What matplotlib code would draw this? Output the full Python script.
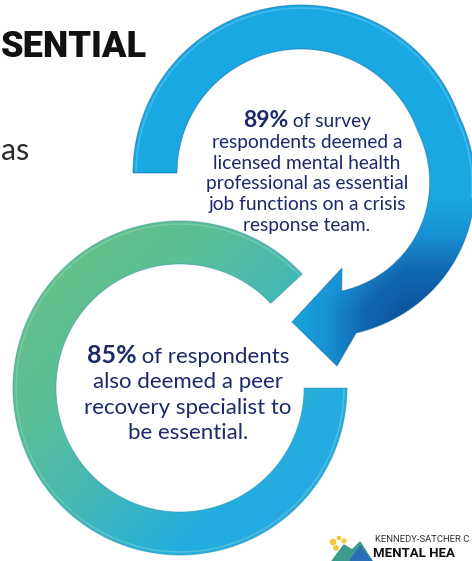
import numpy as np
import matplotlib.pyplot as plt
from matplotlib.colors import LinearSegmentedColormap
from matplotlib.patches import Polygon, Circle

W, H = 472, 561

# text content
stat_values = [89, 85]
top_lines = ["of survey", "respondents deemed a", "licensed mental health",
             "professional as essential", "job functions on a crisis",
             "response team."]
bottom_lines = ["of respondents", "also deemed a peer",
                "recovery specialist to", "be essential."]
title_text = "SENTIAL"
side_text = "as"
logo_lines = ["KENNEDY-SATCHER C", "MENTAL HEA"]

NAVY = "#1C2A69"
BODY_FONT = ["Lato", "DejaVu Sans"]
HEAD_FONT = ["Roboto", "DejaVu Sans"]

fig = plt.figure(figsize=(W / 100, H / 100), dpi=100)
ax = fig.add_axes([0, 0, 1, 1])
ax.set_xlim(0, W)
ax.set_ylim(H, 0)
ax.axis('off')

yy, xx = np.mgrid[0:H, 0:W] + 0.5


def arc_pts(cx, cy, r, t):
    return np.column_stack([cx + r * np.cos(t), cy + r * np.sin(t)])


def gradient_fill(verts, field, cmap, edge):
    patch = Polygon(verts, closed=True, facecolor='none', edgecolor=edge,
                    lw=0.8, alpha=0.45, zorder=3)
    ax.add_patch(patch)
    im = ax.imshow(field, cmap=cmap, vmin=0, vmax=1, extent=(0, W, H, 0),
                   interpolation='bilinear', zorder=2)
    im.set_clip_path(patch)
    return patch


# --- upper blue circular arrow ---
cx1, cy1 = 301, 173
t = np.radians(np.linspace(180, 431, 400))
deg = np.degrees(t)
bump = np.where((deg > 340) & (deg < 435),
                np.sin(np.pi * np.clip((deg - 340) / 95, 0, 1)), 0)
r_out = 168 + 9 * bump
r_in = 124 + 7 * bump
outer = arc_pts(cx1, cy1, r_out, t)
inner = arc_pts(cx1, cy1, r_in, t)[::-1]
head = np.array([[337, 366], [292, 322], [342, 268]])
arrow_verts = np.vstack([outer, head, inner])

blue_cmap = LinearSegmentedColormap.from_list(
    "blue", ["#1AA8E2", "#1893D6", "#1166B0", "#0D559E"])
s_blue = np.clip((yy - 195) / 115, 0, 1) * np.clip((xx - 285) / 120, 0, 1)
gradient_fill(arrow_verts, s_blue, blue_cmap, "#0B5F9E")
# soft highlight on the outer rim
hl = arc_pts(cx1, cy1, r_out - 3, t)
ax.plot(hl[:300, 0], hl[:300, 1], color="#5CC6F0", lw=1.2, alpha=0.6, zorder=3)

# --- lower green-blue ring ---
cx2, cy2 = 180, 388
t2 = np.radians(np.linspace(-43, -360, 400))
ring_verts = np.vstack([arc_pts(cx2, cy2, 167, t2),
                        arc_pts(cx2, cy2, 124, t2)[::-1]])
green_cmap = LinearSegmentedColormap.from_list(
    "green", [(0.0, "#6AC285"), (0.3, "#5ABE98"), (0.5, "#45B8B4"),
              (0.75, "#24AEE0"), (1.0, "#2AA6E8")])
u = ((xx - 30) * 310 + (yy - 240) * 300) / (310 ** 2 + 300 ** 2)
gradient_fill(ring_verts, np.clip(u, 0, 1), green_cmap, "#2C8FA8")
hl2 = arc_pts(cx2, cy2, 164, t2)
ax.plot(hl2[:, 0], hl2[:, 1], color="#9FE0C8", lw=1.0, alpha=0.4, zorder=3)

# --- text ---
fig.canvas.draw()
renderer = fig.canvas.get_renderer()


def mixed_line(xc, y, bold, rest, size_b, size_r):
    tb = ax.text(0, y, bold, fontsize=size_b, fontweight='bold', color=NAVY,
                 family=BODY_FONT, ha='left', va='baseline', zorder=5)
    tr = ax.text(0, y, " " + rest, fontsize=size_r, color=NAVY,
                 family=BODY_FONT, ha='left', va='baseline', zorder=5)
    wb = tb.get_window_extent(renderer).width
    wr = tr.get_window_extent(renderer).width
    x0 = xc - (wb + wr) / 2
    tb.set_x(x0)
    tr.set_x(x0 + wb)


# top block
top_x, top_y, top_dy = 307, 127, 20.8
mixed_line(top_x, top_y, f"{stat_values[0]}%", top_lines[0], 16.5, 13.8)
for i, line in enumerate(top_lines[1:], start=1):
    ax.text(top_x, top_y + i * top_dy, line, fontsize=13.8, color=NAVY,
            family=BODY_FONT, ha='center', va='baseline', zorder=5)

# bottom block
bot_x, bot_y, bot_dy = 188, 363, 25.3
mixed_line(bot_x, bot_y, f"{stat_values[1]}%", bottom_lines[0], 18, 16)
for i, line in enumerate(bottom_lines[1:], start=1):
    ax.text(bot_x, bot_y + i * bot_dy, line, fontsize=16, color=NAVY,
            family=BODY_FONT, ha='center', va='baseline', zorder=5)

# heading fragments on the left
ax.text(1, 57, title_text, fontsize=26, fontweight='heavy', color="#111111",
        family=HEAD_FONT, ha='left', va='baseline', zorder=5)
ax.text(1, 160, side_text, fontsize=22, color="#2B2B2B",
        family=BODY_FONT, ha='left', va='baseline', zorder=5)

# --- logo at bottom right ---
for (x, y, r) in [(333, 542, 2.6), (339, 538, 1.6), (344, 541, 1.8),
                  (336, 548, 2.2)]:
    ax.add_patch(Circle((x, y), r, color="#F4C83A", zorder=4))
ax.add_patch(Polygon([[332, 561], [344, 545], [352, 550], [360, 542],
                      [372, 561]], closed=True, color="#3A9C8C", zorder=4))
ax.add_patch(Polygon([[350, 561], [360, 546], [372, 561]], closed=True,
                     color="#2A6FB5", zorder=4))
ax.text(375, 541.5, logo_lines[0], fontsize=6.8, color="#333333",
        family=HEAD_FONT, ha='left', va='baseline', zorder=5)
ax.text(373, 557, logo_lines[1], fontsize=9.5, fontweight='bold',
        color="#111111", family=HEAD_FONT, ha='left', va='baseline',
        zorder=5)

fig.savefig("out.png", dpi=100)
